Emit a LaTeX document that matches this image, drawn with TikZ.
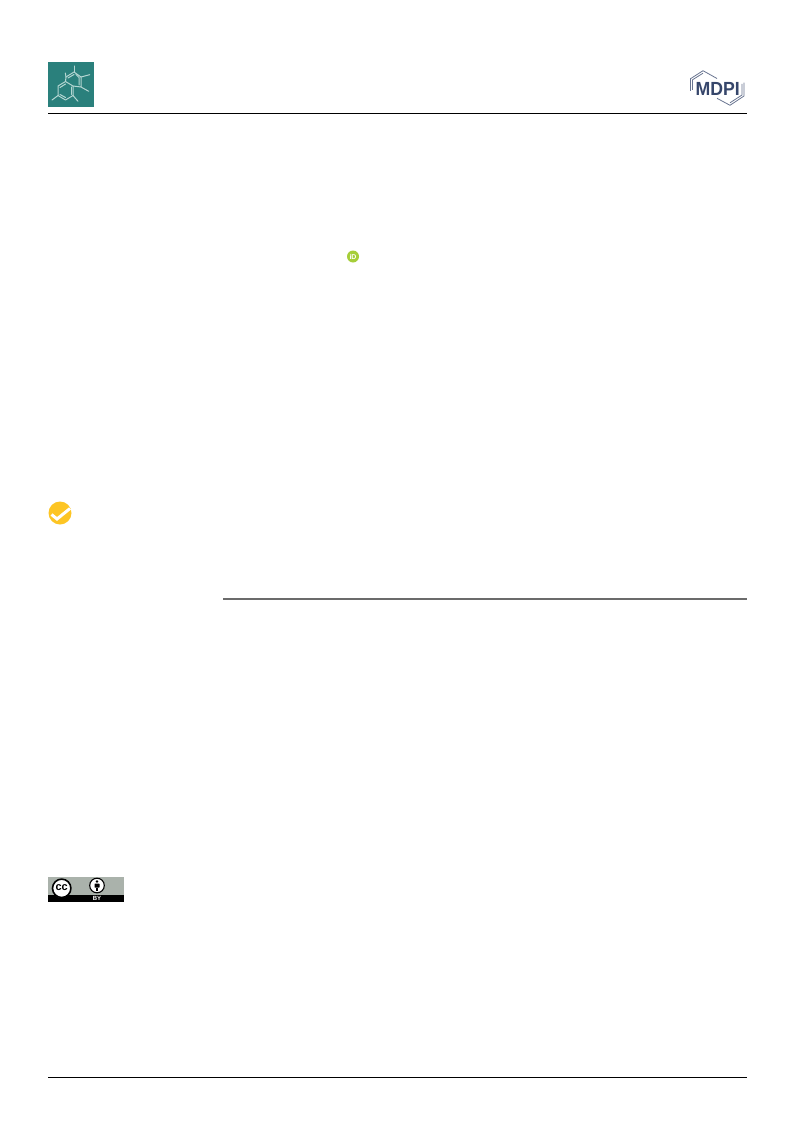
\documentclass[tikz,border=0pt]{standalone}
\usepackage{fontspec}
\setmainfont{Liberation Sans}
\definecolor{tealbg}{HTML}{2A807C}
\definecolor{molline}{HTML}{B4D6D2}
\definecolor{mdpiblue}{HTML}{36466B}
\definecolor{ccgrey}{HTML}{AAB2AB}
\definecolor{checkyellow}{HTML}{FDC524}
\definecolor{orcidgreen}{HTML}{A6CE39}
\tikzset{
  rulemark/.style={line width=0.9pt,black},
  molbond/.style={line width=1pt,molline,line cap=round,line join=round},
  mdpihex/.style={line width=0.8pt,mdpiblue!75,line join=round},
}
\begin{document}
\begin{tikzpicture}[x=1pt,y=-1pt]
\useasboundingbox (0,0) rectangle (793,1121);
\fill[white] (0,0) rectangle (793,1121);
% journal logo
\fill[tealbg] (48,62) rectangle (94,107);
\draw[molbond] (58,86) -- (65.5,81.5) -- (73,86) -- (73,95.5) -- (65.5,100) -- (58,95.5) -- cycle;
\draw[molbond] (60,87.5) -- (65.5,84);
\draw[molbond] (71,87) -- (71,94.5);
\draw[molbond] (60,94.5) -- (65.5,97.5);
\draw[molbond] (65.5,81.5) -- (66,77) -- (74,72) -- (81,77) -- (81,87) -- (73,86);
\draw[molbond] (68,78) -- (74,74.5);
\draw[molbond] (76,74.5) -- (79,77.5) -- (79,85);
\draw[molbond] (66,77) -- (65.3,73);
\draw[molbond] (74,72) -- (74,66);
\draw[molbond] (81,77) -- (89.7,74.7);
\draw[molbond] (81,87) -- (88.7,91.3);
\draw[molbond] (73,95.5) -- (78,101.3);
\draw[molbond] (58,95.5) -- (52,100);
% MDPI logo
\draw[mdpihex] (690.5,91) -- (690.5,78.7) -- (703,70.7) -- (717,78.5);
\draw[mdpihex] (692.5,90) -- (692.5,79.8) -- (703,73.2);
\draw[mdpihex] (744,82.7) -- (744,96) -- (730,105.3) -- (717,98.3);
\draw[mdpihex] (742,84) -- (742,95) -- (730,102.8);
\node[font=\bfseries\fontsize{19}{19}\selectfont,text=mdpiblue,inner sep=0pt,xscale=0.93] (mdpi) at (717.8,88.5) {MDPI};
% rules
\draw[rulemark] (48,113.5) -- (747,113.5);
\draw[line width=1.3pt,black!58] (223,599) -- (747,599);
\draw[rulemark] (48,1077.5) -- (747,1077.5);
% ORCID
\fill[orcidgreen] (353,256.5) circle (6);
\node[font=\bfseries\fontsize{7}{7}\selectfont,text=white,inner sep=0pt] (orcid) at (353,256.5) {iD};
% check mark
\fill[checkyellow] (60,513) circle (11.5);
\draw[white,line width=3pt] (51.5,514.5) -- (57,519) -- (70,508.5);
% CC licence
\fill[ccgrey] (48,877) rectangle (124,902);
\fill[black] (48,894.5) rectangle (124,902);
\fill[white] (61.7,888.3) circle (9.5);
\draw[black,line width=1.6pt] (61.7,888.3) circle (9.2);
\node[font=\bfseries\fontsize{11}{11}\selectfont,inner sep=0pt] (cc) at (61.7,887.5) {cc};
\fill[white] (97,885.5) circle (7.5);
\draw[black,line width=1.1pt] (97,885.5) circle (7.3);
\fill[black] (97,881.5) circle (1.4);
\fill[black,rounded corners=0.5pt] (94.5,883.5) rectangle (99.5,887.5);
\fill[black] (95.8,887.5) rectangle (98.2,891);
\node[font=\bfseries\fontsize{6}{6}\selectfont,text=white,inner sep=0pt] (by) at (97,898.3) {BY};
\end{tikzpicture}
\end{document}
